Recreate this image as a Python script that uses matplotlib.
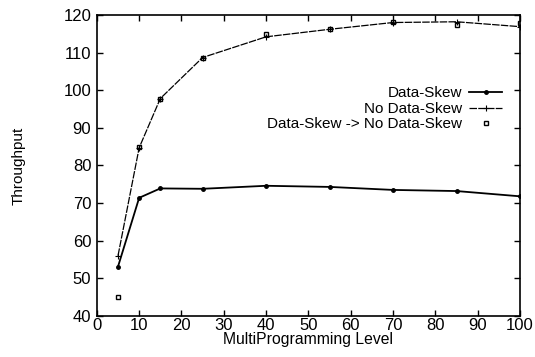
import matplotlib
matplotlib.use("Agg")
import matplotlib.pyplot as plt

mpl_levels = [5, 10, 15, 25, 40, 55, 70, 85, 100]
data_skew = [53.1, 71.4, 73.9, 73.8, 74.6, 74.3, 73.5, 73.2, 71.8]
no_data_skew = [56.0, 84.7, 97.8, 108.7, 114.2, 116.2, 118.0, 118.2, 116.9]
skew_to_noskew = [45.0, 84.8, 97.8, 108.7, 115.0, 116.2, 118.1, 117.3, 117.8]

x_ticks = [0, 10, 20, 30, 40, 50, 60, 70, 80, 90, 100]
y_ticks = [40, 50, 60, 70, 80, 90, 100, 110, 120]

plt.rcParams['font.family'] = ['Liberation Sans', 'DejaVu Sans']

fig = plt.figure(figsize=(5.35, 3.57), dpi=100)
ax = fig.add_axes([0.181, 0.115, 0.791, 0.843])

ax.plot(mpl_levels, data_skew, color='black', lw=1.3, marker='o', ms=2.5,
        label='Data-Skew')
ax.plot(mpl_levels, no_data_skew, color='black', lw=0.9, ls=(0, (6, 1)),
        marker='+', ms=4, mew=0.8, label='No Data-Skew')
ax.plot(mpl_levels, skew_to_noskew, color='black', ls='none', marker='s',
        ms=3.5, mfc='none', mew=1.0, label='Data-Skew -> No Data-Skew')

ax.set_xlim(0, 100)
ax.set_ylim(40, 120)
ax.set_xticks(x_ticks)
ax.set_yticks(y_ticks)
ax.tick_params(direction='in', top=True, right=True, length=4, width=1,
               labelsize=12)
ax.tick_params(axis='x', pad=1.5)
ax.tick_params(axis='y', pad=4)
for s in ax.spines.values():
    s.set_linewidth(1.2)

ax.set_xlabel('MultiProgramming Level', fontsize=11.3, labelpad=-1)
ax.set_ylabel('Throughput', fontsize=11, labelpad=27)

leg = ax.legend(loc='upper right', bbox_to_anchor=(0.972, 0.783), frameon=False,
                markerfirst=False, fontsize=11, handlelength=2.15,
                labelspacing=0.1, handletextpad=0.45, borderaxespad=0)

fig.savefig('out.png', dpi=100)
